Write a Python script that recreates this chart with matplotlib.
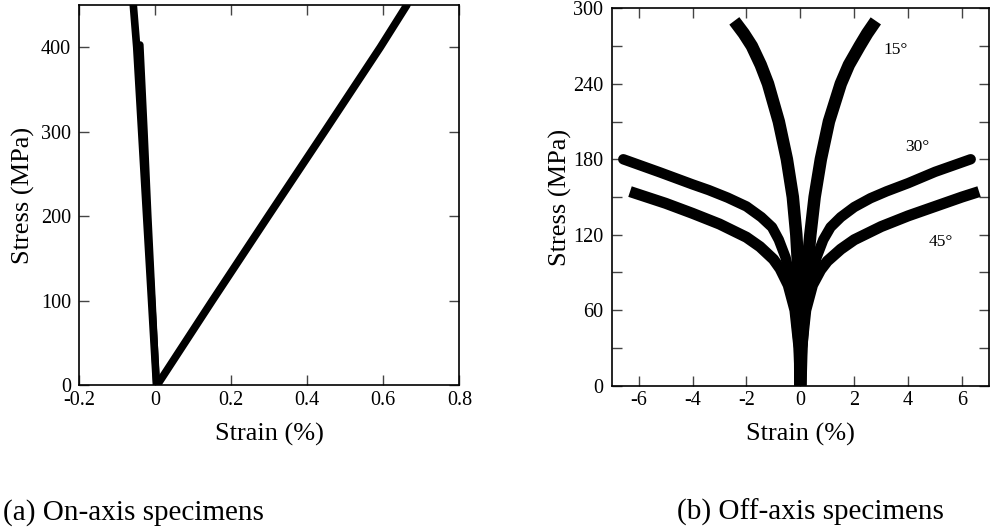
import numpy as np
import matplotlib
matplotlib.use('Agg')
import matplotlib.pyplot as plt
from matplotlib.ticker import MultipleLocator

plt.rcParams['font.family'] = ['Liberation Serif', 'DejaVu Serif']
plt.rcParams['axes.unicode_minus'] = False

# (a) on-axis specimens: stress (MPa) vs strain (%)
on_stress = [0, 100, 200, 300, 400, 450]
on_long = [0.005, 0.150, 0.297, 0.445, 0.592, 0.662]
on_trans = [0.003, -0.010, -0.023, -0.036, -0.049, -0.058]
on_stress2 = [0, 100, 200, 300, 403]
on_trans2 = [0.003, -0.008, -0.019, -0.029, -0.040]

# (b) off-axis specimens, longitudinal (+) and transverse (-) strain
stress15 = [0, 30, 60, 90, 120, 150, 180, 210, 240, 255, 270, 280, 290]
long15 = [0, 0.04, 0.12, 0.24, 0.37, 0.53, 0.76, 1.06, 1.50, 1.80, 2.20, 2.48, 2.80]
trans15 = [0, -0.01, -0.03, -0.07, -0.15, -0.28, -0.50, -0.80, -1.20, -1.47, -1.80, -2.10, -2.45]

long30_strain = [0, 0.05, 0.18, 0.35, 0.60, 0.85, 1.12, 1.50, 2.00, 2.60, 3.20, 4.00, 5.00, 6.32]
long30_stress = [0, 30, 60, 82, 102, 116, 126, 134, 142, 149, 154.5, 161, 170, 180]
trans30_strain = [0, -0.05, -0.18, -0.33, -0.55, -0.80, -1.05, -1.45, -2.00, -2.70, -3.40, -4.00, -5.20, -6.57]
trans30_stress = [0, 30, 60, 82, 102, 116, 126, 134, 142.5, 149.5, 155.5, 160, 169.5, 180]

long45_strain = [0, 0.05, 0.20, 0.45, 0.75, 1.00, 1.50, 2.00, 3.00, 4.00, 5.00, 6.00, 6.63]
long45_stress = [0, 30, 60, 80, 92, 99, 108.5, 116, 126.5, 135, 142.5, 150, 154.3]
trans45_strain = [0, -0.05, -0.20, -0.45, -0.75, -1.00, -1.50, -2.00, -3.00, -4.00, -5.00, -6.32]
trans45_stress = [0, 30, 60, 80, 93, 100.5, 110.5, 118, 128.5, 137, 145, 154.3]

angle_labels = ['15°', '30°', '45°']
label_x = [3.55, 4.35, 5.2]
label_y = [267, 190, 114.5]


def style_axes(ax):
    ax.tick_params(which='both', direction='in', top=True, right=True,
                   length=7, width=1, color='#444444', labelsize=14.5)
    ax.tick_params(axis='x', pad=4)
    ax.tick_params(axis='y', pad=6)
    for s in ax.spines.values():
        s.set_linewidth(1.2)
    ax.set_xlabel('Strain (%)', fontsize=19)
    ax.set_ylabel('Stress (MPa)', fontsize=19)
    ax.xaxis.label.set_va('center')
    ax.yaxis.label.set_va('center')


fig = plt.figure(figsize=(9.93, 5.28), dpi=100)

ax1 = fig.add_axes([0.0799, 0.2708, 0.3827, 0.7197])
ax1.plot(on_long, on_stress, color='k', lw=5.5, solid_capstyle='round')
ax1.plot(on_trans, on_stress, color='k', lw=5.5, solid_capstyle='round')
ax1.plot(on_trans2, on_stress2, color='k', lw=5.0, solid_capstyle='round')
ax1.set_xlim(-0.2, 0.8)
ax1.set_ylim(0, 450)
ax1.set_xticks([-0.2, 0, 0.2, 0.4, 0.6, 0.8])
ax1.set_xticklabels(['-0.2', '0', '0.2', '0.4', '0.6', '0.8'])
ax1.yaxis.set_major_locator(MultipleLocator(100))
style_axes(ax1)
ax1.xaxis.set_label_coords(0.5, -0.13)
ax1.yaxis.set_label_coords(-0.148, 0.5)

ax2 = fig.add_axes([0.616, 0.2695, 0.38, 0.7148])
ax2.plot(long15, stress15, color='k', lw=9, solid_capstyle='butt')
ax2.plot(trans15, stress15, color='k', lw=9, solid_capstyle='butt')
ax2.plot(long30_strain, long30_stress, color='k', lw=7.5, solid_capstyle='round')
ax2.plot(trans30_strain, trans30_stress, color='k', lw=7.5, solid_capstyle='round')
ax2.plot(long45_strain, long45_stress, color='k', lw=8, solid_capstyle='butt')
ax2.plot(trans45_strain, trans45_stress, color='k', lw=8, solid_capstyle='butt')
for txt, x, y in zip(angle_labels, label_x, label_y):
    ax2.text(x, y, txt, fontsize=12.5, ha='center', va='center')
ax2.set_xlim(-7, 7)
ax2.set_ylim(0, 300)
ax2.set_xticks([-6, -4, -2, 0, 2, 4, 6])
ax2.yaxis.set_major_locator(MultipleLocator(60))
ax2.yaxis.set_minor_locator(MultipleLocator(30))
style_axes(ax2)
ax2.xaxis.set_label_coords(0.5, -0.13)
ax2.yaxis.set_label_coords(-0.137, 0.5)

fig.text(0.003, 0.03, '(a) On-axis specimens', fontsize=21, va='center')
fig.text(0.682, 0.03, '(b) Off-axis specimens', fontsize=21, va='center')

fig.savefig('out.png', dpi=100)
